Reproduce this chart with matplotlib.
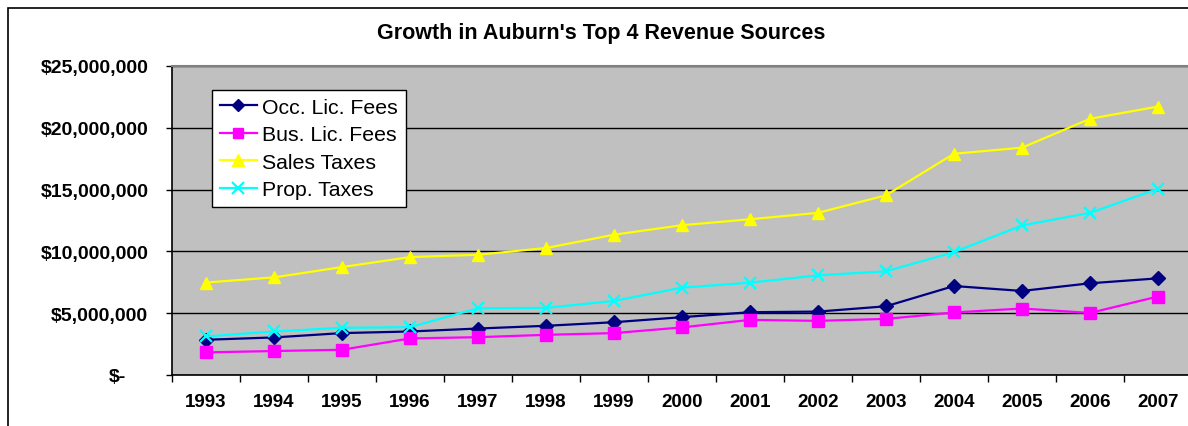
import matplotlib
matplotlib.use("Agg")
import matplotlib.pyplot as plt
import matplotlib.transforms as mtransforms
from matplotlib.patches import Rectangle
from matplotlib.ticker import FuncFormatter, FixedLocator

plt.rcParams['font.family'] = ['Liberation Sans', 'DejaVu Sans']

years = ["1993", "1994", "1995", "1996", "1997", "1998", "1999", "2000",
         "2001", "2002", "2003", "2004", "2005", "2006", "2007"]
occ_lic_fees = [2.85e6, 3.04e6, 3.39e6, 3.52e6, 3.76e6, 3.98e6, 4.27e6, 4.68e6,
                5.08e6, 5.13e6, 5.56e6, 7.20e6, 6.80e6, 7.42e6, 7.82e6]
bus_lic_fees = [1.83e6, 1.94e6, 2.04e6, 2.96e6, 3.06e6, 3.25e6, 3.39e6, 3.85e6,
                4.46e6, 4.38e6, 4.54e6, 5.06e6, 5.38e6, 5.02e6, 6.35e6]
sales_taxes = [7.48e6, 7.90e6, 8.73e6, 9.54e6, 9.73e6, 10.27e6, 11.35e6, 12.12e6,
               12.60e6, 13.12e6, 14.54e6, 17.90e6, 18.39e6, 20.73e6, 21.72e6]
prop_taxes = [3.12e6, 3.52e6, 3.82e6, 3.87e6, 5.40e6, 5.43e6, 5.99e6, 7.07e6,
              7.47e6, 8.06e6, 8.39e6, 9.94e6, 12.10e6, 13.12e6, 15.06e6]
title = "Growth in Auburn's Top 4 Revenue Sources"

W, H = 1188, 427
fig = plt.figure(figsize=(W / 100, H / 100), dpi=100)
fig.patch.set_facecolor("white")

# chart frame
fig.add_artist(Rectangle((8 / W, -0.05), 1.2, (H - 9) / H + 0.05,
                         transform=fig.transFigure, fill=False,
                         edgecolor="black", linewidth=1.2))

left, right, top, bottom = 172, 1192, 67, 376
ax = fig.add_axes([left / W, (H - bottom) / H, (right - left) / W, (bottom - top) / H])
ax.set_facecolor("#C0C0C0")

x = list(range(len(years)))
series = [
    (occ_lic_fees, "Occ. Lic. Fees", "#000080", "D", 7, None),
    (bus_lic_fees, "Bus. Lic. Fees", "#FF00FF", "s", 8, None),
    (sales_taxes, "Sales Taxes", "#FFFF00", "^", 9, None),
    (prop_taxes, "Prop. Taxes", "#00FFFF", "x", 9, 1.6),
]
for vals, name, col, mk, ms, mew in series:
    kw = dict(markeredgewidth=mew) if mew else {}
    ax.plot(x, vals, color=col, linewidth=1.6, marker=mk, markersize=ms,
            markerfacecolor=col, markeredgecolor=col, label=name, zorder=3, **kw)

ax.set_xlim(-0.5, len(years) - 0.5)
ax.set_ylim(0, 25e6)
ax.set_yticks([0, 5e6, 10e6, 15e6, 20e6, 25e6])
ax.yaxis.set_major_formatter(FuncFormatter(
    lambda v, p: "$-" if v == 0 else "${:,.0f}".format(v)))
ax.grid(axis="y", color="black", linewidth=1.0, zorder=1)
ax.set_axisbelow(True)

ax.set_xticks(x)
ax.set_xticklabels(years)
ax.xaxis.set_minor_locator(FixedLocator([i - 0.5 for i in range(len(years) + 1)]))
ax.tick_params(axis="x", which="major", length=0, pad=13)
ax.tick_params(axis="x", which="minor", length=5, width=1, color="black")
ax.tick_params(axis="y", length=4.5, width=1, pad=12.5, color="black")
for lab in ax.get_xticklabels():
    lab.set_fontweight("bold")
    lab.set_fontsize(13.5)
for lab in ax.get_yticklabels():
    lab.set_fontweight("bold")
    lab.set_fontsize(14)

# accounting-style zero label sits left of the digit column
zero_lab = ax.get_yticklabels()[0]
zero_lab.set_transform(zero_lab.get_transform() +
                       mtransforms.ScaledTranslation(-22 / 100, 0, fig.dpi_scale_trans))

for side in ("left", "bottom"):
    ax.spines[side].set_color("black")
    ax.spines[side].set_linewidth(1.2)
ax.spines["top"].set_color("#808080")
ax.spines["top"].set_linewidth(1.5)
ax.spines["right"].set_visible(False)

fig.text(601 / W, 1 - 34 / H, title, ha="center", va="center",
         fontsize=15.5, fontweight="bold")

leg = ax.legend(loc="upper left", bbox_to_anchor=(212 / W, 1 - 91 / H),
                bbox_transform=fig.transFigure, borderaxespad=0,
                frameon=True, fancybox=False, framealpha=1, fontsize=15.3,
                handlelength=1.75, handletextpad=0.25, labelspacing=0.4,
                borderpad=0.36, markerscale=0.9)
leg.get_frame().set_edgecolor("black")
leg.get_frame().set_linewidth(1.0)
leg.get_frame().set_facecolor("white")

fig.savefig("out.png", dpi=100)
